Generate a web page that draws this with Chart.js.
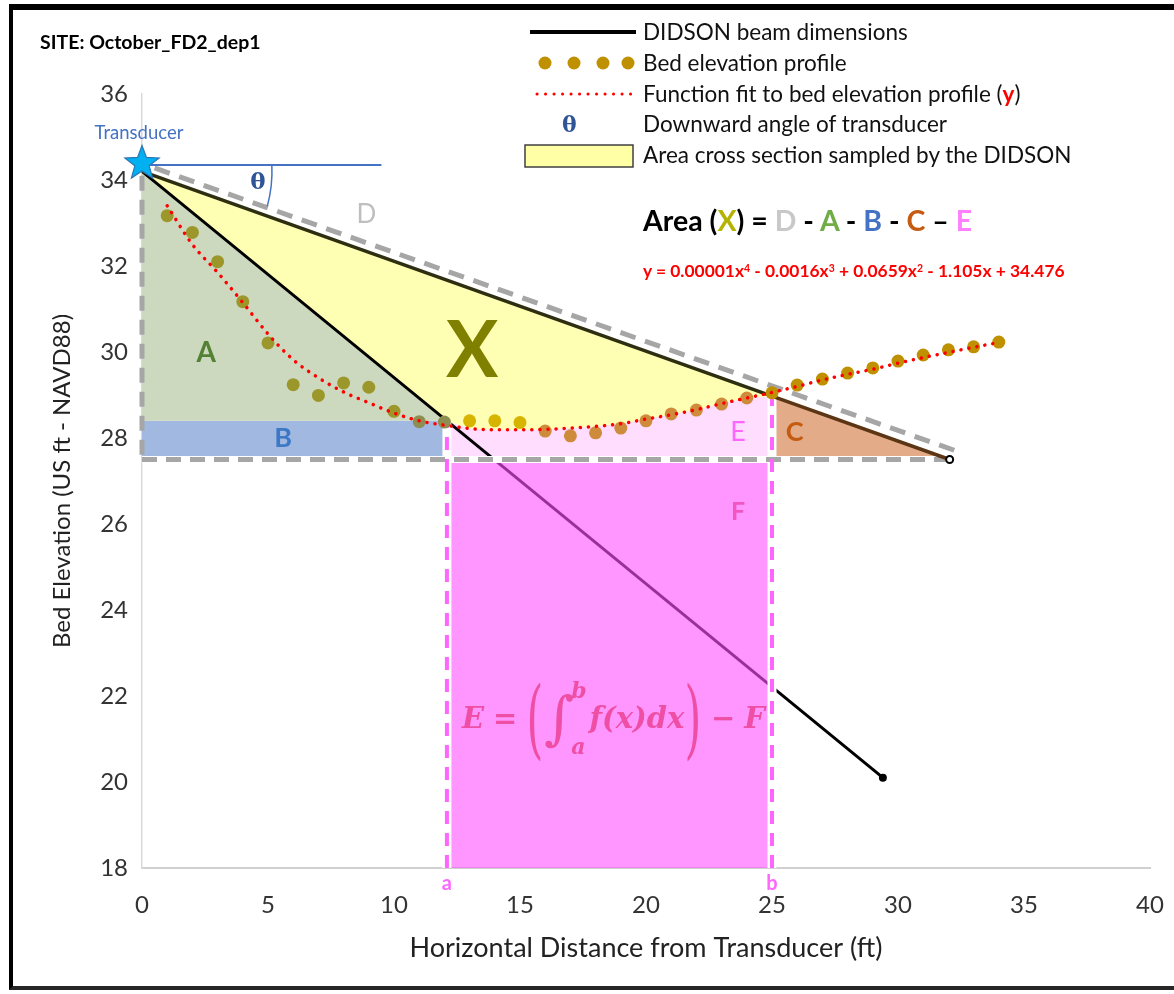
<!DOCTYPE html>
<html>
<head>
<meta charset="utf-8">
<title>DIDSON cross section - October_FD2_dep1</title>
<script src="https://cdn.jsdelivr.net/npm/chart.js@4.4.1/dist/chart.umd.min.js"></script>
<style>
  html, body { margin: 0; padding: 0; background: #fff; }
  body { position: relative; width: 1174px; height: 994px; overflow: hidden; font-family: Lato, "Liberation Sans", sans-serif; color: #111; }
  #chart { position: absolute; left: 0; top: 0; }
  #frame { position: absolute; left: 9px; top: 4px; width: 1200px; height: 976px; border-left: 4px solid #000; border-top: 6px solid #000; border-bottom: 4px solid #262626; pointer-events: none; }
  .t { position: absolute; line-height: 1; transform: translateY(-50%); white-space: nowrap; }
  .legend { left: 643px; font-size: 22.5px; }
  .theta { font-family: "DejaVu Serif", serif; font-weight: bold; color: #2F5597; }
  sup { font-size: 0.6em; vertical-align: 0.55em; line-height: 0; }
  #integral { display: flex; align-items: center; font-family: "DejaVu Serif", serif; font-style: italic; font-weight: bold; font-size: 29px; color: #EE4FA5; }
  #integral .paren { font-style: normal; font-weight: normal; font-size: 86px; display: inline-block; transform: scaleX(0.5); margin: 0 -8px; }
  #integral .intg { font-style: normal; font-weight: normal; font-size: 58px; }
  #integral .lim { display: flex; flex-direction: column; justify-content: space-between; height: 78px; font-size: 22px; margin: 0 3px 0 -3px; }
  #integral .op { font-style: normal; margin: 0 9px; }
</style>
</head>
<body>
<canvas id="chart" width="1174" height="994"></canvas>
<div id="frame"></div>

<div class="t" style="left:40px; top:42px; font-weight:bold; font-size:19.5px; color:#000">SITE: October_FD2_dep1</div>

<div class="t legend" style="top:32px">DIDSON beam dimensions</div>
<div class="t legend" style="top:63px">Bed elevation profile</div>
<div class="t legend" style="top:94px">Function fit to bed elevation profile (<b style="color:#FF0000">y</b>)</div>
<div class="t theta" style="left:562px; top:124px; font-size:22px">θ</div>
<div class="t legend" style="top:124px">Downward angle of transducer</div>
<div class="t legend" style="top:155px">Area cross section sampled by the DIDSON</div>

<div class="t" style="left:643px; top:220px; font-size:28.5px; font-weight:bold; color:#000">Area (<span style="color:#B4B400">X</span>) = <span style="color:#C8C8C8">D</span> - <span style="color:#70AD47">A</span> - <span style="color:#4472C4">B</span> - <span style="color:#C55A11">C</span> – <span style="color:#FF80FF">E</span></div>
<div class="t" style="left:643px; top:271px; font-size:17.4px; font-weight:bold; color:#FF0000">y = 0.00001x<sup>4</sup> - 0.0016x<sup>3</sup> + 0.0659x<sup>2</sup> - 1.105x + 34.476</div>

<div class="t" id="integral" style="left:462px; top:718px;">
  <span>E</span><span class="op">=</span><span class="paren">(</span><span class="intg">∫</span><span class="lim"><span>b</span><span>a</span></span><span>f(x)dx</span><span class="paren">)</span><span class="op">−</span><span>F</span>
</div>

<script>
// --- values --- //
const bedX = [1, 2, 3, 4, 5, 6, 7, 8, 9, 10, 11, 12, 13, 14, 15, 16, 17, 18, 19, 20, 21, 22, 23, 24, 25, 26, 27, 28, 29, 30, 31, 32, 33, 34];
const bedY = [33.17, 32.78, 32.1, 31.17, 30.21, 29.24, 28.99, 29.28, 29.18, 28.62, 28.38, 28.37, 28.4, 28.4, 28.36, 28.16, 28.05, 28.12, 28.23, 28.4, 28.56, 28.65, 28.79, 28.93, 29.05, 29.23, 29.37, 29.51, 29.63, 29.79, 29.93, 30.05, 30.12, 30.23];

const fitX = [1, 2, 3, 4, 5, 6, 7, 8, 9, 10, 11, 12, 13, 14, 15, 16, 17, 18, 19, 20, 21, 22, 23, 24, 25, 26, 27, 28, 29, 30, 31, 32, 33, 34];
const fitY = [33.4, 32.5, 31.85, 31.15, 30.42, 29.82, 29.4, 29.07, 28.82, 28.58, 28.4, 28.3, 28.22, 28.19, 28.19, 28.2, 28.23, 28.27, 28.33, 28.44, 28.54, 28.66, 28.8, 28.93, 29.06, 29.2, 29.35, 29.48, 29.6, 29.74, 29.87, 29.99, 30.11, 30.22];

const xTicks = [0, 5, 10, 15, 20, 25, 30, 35, 40];
const yTicks = [18, 20, 22, 24, 26, 28, 30, 32, 34, 36];

// beam geometry (ft / ft NAVD88)
const beamOrigin = [0, 34.2];
const beamUpperEnd = [32.05, 27.5];
const beamLowerEnd = [29.4, 20.1];
const dLine = [[0.5, 34.28], [32.4, 27.68]];
const limitA = 12.1;     // a
const limitB = 25;       // b
const baseElev = 27.5;
const bTop = 28.4;
const refElev = 34.35;   // horizontal reference for theta
const refEnd = 9.5;
const starElev = 34.42;

// labels placed in data units
const regionLabels = [
  { text: "D", x: 8.9, y: 33.2, color: "#BFBFBF", font: "26px Lato" },
  { text: "X", x: 13.1, y: 30.0, color: "#808000", font: "bold 78px Lato" },
  { text: "A", x: 2.55, y: 29.98, color: "#548235", font: "bold 28px Lato" },
  { text: "B", x: 5.6, y: 28.0, color: "#3C78C6", font: "bold 27px Lato" },
  { text: "E", x: 23.65, y: 28.14, color: "#FF66FF", font: "27px Lato" },
  { text: "C", x: 25.9, y: 28.14, color: "#C55A11", font: "bold 27px Lato" },
  { text: "F", x: 23.65, y: 26.28, color: "#F256BE", font: "bold 25px Lato" }
];

// --- helpers --- //
const P = (x, y) => ({ x, y });
const lineAt = (p, q, xv) => p[1] + (q[1] - p[1]) * (xv - p[0]) / (q[0] - p[0]);
const pts = (xs, ys) => xs.map((v, i) => P(v, ys[i]));
const curveBetween = (lo, hi) => pts(fitX, fitY).filter(p => p.x > lo && p.x < hi);

const O = P(beamOrigin[0], beamOrigin[1]);
const yLowerA = lineAt(beamOrigin, beamLowerEnd, limitA);
const yUpperB = lineAt(beamOrigin, beamUpperEnd, limitB);

const polyA = [O, P(limitA, bTop), P(0, bTop), O];
const polyB = [P(0, bTop), P(limitA, bTop), P(limitA, baseElev), P(0, baseElev), P(0, bTop)];
const polyX = [O, P(limitB, yUpperB), ...curveBetween(limitA, limitB).reverse(), P(limitA, yLowerA), O];
const polyE = [P(limitA, baseElev), P(limitA, yLowerA), ...curveBetween(limitA, limitB), P(limitB, yUpperB), P(limitB, baseElev), P(limitA, baseElev)];
const polyC = [P(limitB, baseElev), P(limitB, yUpperB), P(beamUpperEnd[0], beamUpperEnd[1]), P(limitB, baseElev)];
const polyF = [P(limitA, 18), P(limitA, baseElev), P(limitB, baseElev), P(limitB, 18), P(limitA, 18)];

function bedColor(xv) {
  if (xv <= 10) return "#9C972A";
  if (xv < limitA) return "#8D8E52";
  if (xv <= 15) return "#D6B400";
  if (xv < limitB) return "#CF8B3C";
  return "#BF9000";
}

function starImage(size, fill, stroke) {
  const c = document.createElement("canvas");
  c.width = c.height = size;
  const g = c.getContext("2d");
  const r = size / 2 - 1, ri = r * 0.42, cx = size / 2, cy = size / 2 + 1.5;
  g.beginPath();
  for (let i = 0; i < 10; i++) {
    const ang = -Math.PI / 2 + i * Math.PI / 5;
    const rad = i % 2 ? ri : r;
    g.lineTo(cx + rad * Math.cos(ang), cy + rad * Math.sin(ang));
  }
  g.closePath();
  g.fillStyle = fill; g.fill();
  g.strokeStyle = stroke; g.lineWidth = 1.2; g.stroke();
  return c;
}

const poly = (label, data, color, order) => ({
  label, data, order, showLine: true, fill: "shape", tension: 0,
  backgroundColor: color, borderColor: "transparent", borderWidth: 0, pointRadius: 0
});
const seg = (label, data, color, width, dash, order, extra) => Object.assign({
  label, data, order, showLine: true, fill: false, tension: 0,
  borderColor: color, borderWidth: width, borderDash: dash, pointRadius: 0
}, extra || {});

const grayDash = [15, 9];
const pinkDash = [13, 9];

// --- annotations: arc, labels, legend keys --- //
const annotate = {
  id: "annotate",
  afterDatasetsDraw(chart) {
    const { ctx, chartArea, scales: { x, y } } = chart;
    ctx.save();
    const ox = x.getPixelForValue(beamOrigin[0]), oy = y.getPixelForValue(beamOrigin[1]);

    // theta arc
    ctx.strokeStyle = "#4472C4"; ctx.lineWidth = 1.5;
    ctx.beginPath(); ctx.arc(ox, oy, 130, -0.05, 0.27); ctx.stroke();
    ctx.fillStyle = "#2F5597"; ctx.font = "bold 23px 'DejaVu Serif'";
    ctx.textAlign = "center"; ctx.textBaseline = "middle";
    ctx.fillText("θ", ox + 116, oy + 12);

    // transducer label
    ctx.fillStyle = "#4472C4"; ctx.font = "18.5px Lato";
    ctx.fillText("Transducer", x.getPixelForValue(0) - 3, y.getPixelForValue(starElev) - 29);

    // region labels
    regionLabels.forEach(l => {
      ctx.font = l.font; ctx.fillStyle = l.color;
      ctx.fillText(l.text, x.getPixelForValue(l.x), y.getPixelForValue(l.y));
    });

    // integration limits under the axis
    ctx.font = "bold 20px Lato"; ctx.fillStyle = "#FF66FF";
    ctx.fillText("a", x.getPixelForValue(limitA), chartArea.bottom + 16);
    ctx.fillText("b", x.getPixelForValue(limitB), chartArea.bottom + 16);

    // legend keys
    ctx.strokeStyle = "#000"; ctx.lineWidth = 4; ctx.setLineDash([]);
    ctx.beginPath(); ctx.moveTo(530, 32); ctx.lineTo(636, 32); ctx.stroke();
    ctx.fillStyle = "#BF9000";
    [545, 574, 603, 628].forEach(cx => { ctx.beginPath(); ctx.arc(cx, 63, 6.5, 0, Math.PI * 2); ctx.fill(); });
    ctx.strokeStyle = "#FF0000"; ctx.lineWidth = 3; ctx.lineCap = "round"; ctx.setLineDash([0.1, 8.4]);
    ctx.beginPath(); ctx.moveTo(537, 94); ctx.lineTo(632, 94); ctx.stroke();
    ctx.setLineDash([]); ctx.lineCap = "butt";
    ctx.fillStyle = "#FFFFA6"; ctx.fillRect(525, 145, 108, 22);
    ctx.strokeStyle = "#404040"; ctx.lineWidth = 1.5; ctx.strokeRect(525, 145, 108, 22);
    ctx.restore();
  }
};

new Chart(document.getElementById("chart"), {
  type: "scatter",
  data: {
    datasets: [
      poly("A", polyA, "#CDD9BF", 100),
      poly("B", polyB, "#A1B8E1", 100),
      poly("X", polyX, "#FFFFB3", 100),
      poly("E", polyE, "#FFDDFF", 100),
      poly("C", polyC, "#E3AB88", 100),
      seg("DIDSON beam (lower)", [O, P(beamLowerEnd[0], beamLowerEnd[1])], "#000", 3, [], 90, {
        pointRadius: c => c.dataIndex === 1 ? 4 : 0, pointBackgroundColor: "#000", pointBorderWidth: 0
      }),
      poly("F", polyF, "rgba(255,80,255,0.6)", 80),
      seg("sep base", [P(0, baseElev), P(beamUpperEnd[0], baseElev)], "#fff", 7, [], 70),
      seg("sep a", [P(limitA, 18), P(limitA, yLowerA)], "#fff", 9, [], 70),
      seg("sep b", [P(limitB, 18), P(limitB, yUpperB)], "#fff", 9, [], 70),
      seg("dash left", [P(0, beamOrigin[1] - 0.1), P(0, baseElev)], "#A6A6A6", 5, grayDash, 60, { clip: false }),
      seg("dash base", [P(0, baseElev), P(beamUpperEnd[0], baseElev)], "#A6A6A6", 5, grayDash, 60),
      seg("D", [P(dLine[0][0], dLine[0][1]), P(dLine[1][0], dLine[1][1])], "#A6A6A6", 5, [16, 10], 60, { clip: false }),
      seg("a line", [P(limitA, 18), P(limitA, yLowerA)], "#FF66FF", 4, pinkDash, 50),
      seg("b line", [P(limitB, 18), P(limitB, yUpperB)], "#FF66FF", 4, pinkDash, 50),
      seg("theta ref", [P(0, refElev), P(refEnd, refElev)], "#4472C4", 2, [], 45, { clip: false }),
      seg("DIDSON beam (upper)", [O, P(limitB, yUpperB), P(beamUpperEnd[0], beamUpperEnd[1])], "#2E2E10", 3.5, [], 40, {
        segment: { borderColor: c => c.p0.parsed.x >= limitB ? "#5C3514" : "#2E2E10" },
        pointRadius: c => c.dataIndex === 2 ? 3.5 : 0, pointBackgroundColor: "#fff",
        pointBorderColor: "#000", pointBorderWidth: 2, clip: false
      }),
      {
        label: "Bed elevation profile", data: pts(bedX, bedY), order: 30, showLine: false,
        pointRadius: 6.5, pointBorderWidth: 0,
        pointBackgroundColor: c => bedColor(bedX[c.dataIndex])
      },
      seg("Function fit", pts(fitX, fitY), "#FF0000", 3.5, [0.1, 8], 20, {
        borderCapStyle: "round", cubicInterpolationMode: "monotone"
      }),
      {
        label: "Transducer", data: [P(0, starElev)], order: 10, clip: false,
        pointStyle: starImage(38, "#00B0F0", "#2E75B6"), pointRadius: 19
      }
    ]
  },
  options: {
    responsive: false,
    devicePixelRatio: 1,
    animation: false,
    events: [],
    layout: { padding: { top: 94, right: 24, left: 0, bottom: 0 } },
    plugins: { legend: { display: false }, tooltip: { enabled: false } },
    scales: {
      x: {
        type: "linear", min: 0, max: 40,
        afterBuildTicks: s => { s.ticks = xTicks.map(v => ({ value: v })); },
        afterFit: s => { s.height = 126; s.paddingRight = 0; s.paddingLeft = 0; },
        grid: { color: "transparent", drawTicks: false },
        border: { display: true, color: "#D0D0D0", width: 2 },
        ticks: { color: "#333", font: { family: "Lato", size: 24 }, padding: 23, maxRotation: 0 },
        title: { display: true, text: "Horizontal Distance from Transducer (ft)", color: "#222",
                 font: { family: "Lato", size: 27 }, padding: { top: 0, bottom: 30 } }
      },
      y: {
        type: "linear", min: 18, max: 36,
        afterBuildTicks: s => { s.ticks = yTicks.map(v => ({ value: v })); },
        afterFit: s => { s.width = 142; s.paddingTop = 0; s.paddingBottom = 0; },
        grid: { color: "transparent", drawTicks: false },
        border: { display: true, color: "#D9D9D9", width: 1.5 },
        ticks: { color: "#333", font: { family: "Lato", size: 24 }, padding: 14 },
        title: { display: true, text: "Bed Elevation (US ft - NAVD88)", color: "#222",
                 font: { family: "Lato", size: 24 }, padding: { top: 48, bottom: 0 } }
      }
    }
  },
  plugins: [annotate]
});
</script>
</body>
</html>
